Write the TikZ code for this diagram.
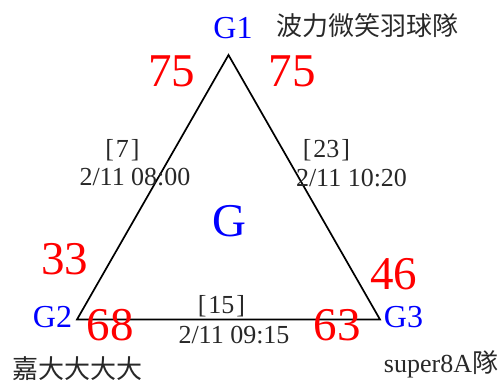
\documentclass[tikz,border=0pt]{standalone}
\usepackage{fontspec}
\setmainfont{Liberation Serif}
\newfontfamily\cjk{Noto Sans CJK TC}
\definecolor{txt}{RGB}{40,40,40}
\newcommand{\bk}[1]{[\kern2pt#1\kern2pt]}
\begin{document}
\begin{tikzpicture}[x=1pt,y=-1pt,
  lbl/.style={inner sep=0pt,anchor=base},
  score/.style={lbl,text=red,font=\fontsize{47}{50}\selectfont},
  gname/.style={lbl,text=blue,font=\fontsize{32}{36}\selectfont},
  info/.style={lbl,text=txt,font=\fontsize{26}{30}\selectfont},
  team/.style={lbl,text=txt,font=\fontsize{26}{30}\cjk},
  edge/.style={line width=1.7pt,line join=miter}]
\useasboundingbox (0,0) rectangle (501,382);
\coordinate (v1) at (228.5,55);
\coordinate (v2) at (77,319.5);
\coordinate (v3) at (380,319.5);
\draw[edge] (v1) -- (v2) -- (v3) -- cycle;
\node[gname] (g1) at (233,39) {G1};
\node[gname] (g2) at (52.5,327) {G2};
\node[gname] (g3) at (403.5,327) {G3};
\node[lbl,text=blue,font=\fontsize{47}{50}\selectfont] (g) at (229.5,237) {G};
\node[score] (s1) at (171.5,87) {75};
\node[score] (s2) at (292,87) {75};
\node[score] (s3) at (64.5,275) {33};
\node[score] (s4) at (393.5,290) {46};
\node[score] (s5) at (110,340) {68};
\node[score] (s6) at (337,340) {63};
\node[info] (m1) at (122.5,158) {\bk{7}};
\node[info] (t1) at (135,186) {2/11 08:00};
\node[info] (m2) at (326.5,158) {\bk{23}};
\node[info] (t2) at (351.5,187) {2/11 10:20};
\node[info] (m3) at (221.5,313) {\bk{15}};
\node[info] (t3) at (234,343) {2/11 09:15};
\node[team] (n1) at (367.5,36) {波力微笑羽球隊};
\node[team] (n2) at (77.5,378) {嘉大大大大};
\node[info] (n3) at (441,372) {super8A{\cjk 隊}};
\end{tikzpicture}
\end{document}
